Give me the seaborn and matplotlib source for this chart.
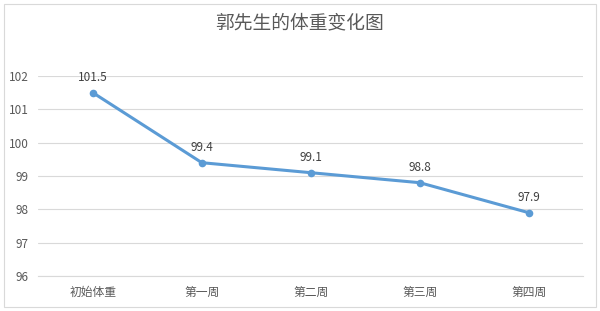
import matplotlib
matplotlib.use("Agg")
import matplotlib.pyplot as plt
import seaborn as sns
import pandas as pd
from matplotlib.patches import Rectangle

categories = ["初始体重", "第一周", "第二周", "第三周", "第四周"]
weights = [101.5, 99.4, 99.1, 98.8, 97.9]
yticks = [96, 97, 98, 99, 100, 101, 102]
title = "郭先生的体重变化图"

sns.set_theme(style="white")
plt.rcParams['font.family'] = ['Noto Sans CJK SC', 'DejaVu Sans']

df = pd.DataFrame({"cat": categories, "w": weights})

fig = plt.figure(figsize=(6, 3.11), dpi=100)
ax = fig.add_axes([0.064, 0.1125, 0.908, 0.643])

line_color = "#5B9BD5"
sns.lineplot(data=df, x="cat", y="w", ax=ax, color=line_color, linewidth=2.2,
             marker="o", markersize=5.5, markeredgewidth=0, sort=False)

for i, v in enumerate(weights):
    ax.annotate(f"{v}", (i, v), xytext=(0, 6.5), textcoords="offset points",
                ha="center", va="bottom", fontsize=8.5, color="#404040")

ax.set_xlim(-0.5, len(categories) - 0.5)
ax.set_ylim(96, 102)
ax.set_yticks(yticks)
ax.set_yticklabels([str(t) for t in yticks])
ax.grid(axis="y", color="#D9D9D9", linewidth=0.8)
ax.set_axisbelow(True)
for s in ["top", "right", "left"]:
    ax.spines[s].set_visible(False)
ax.spines["bottom"].set_color("#D9D9D9")
ax.spines["bottom"].set_linewidth(0.8)
ax.tick_params(axis="x", length=0, labelsize=8.5, colors="#595959", pad=7)
ax.tick_params(axis="y", length=0, labelsize=8.5, colors="#595959", pad=7)
ax.set_xlabel("")
ax.set_ylabel("")

fig.text(0.5, 0.925, title, ha="center", va="center", fontsize=13.5, color="#595959")

fig.patches.append(Rectangle((0.006, 0.012), 0.988, 0.976, transform=fig.transFigure,
                             fill=False, edgecolor="#D9D9D9", linewidth=0.8))

fig.savefig("out.png", dpi=100)
